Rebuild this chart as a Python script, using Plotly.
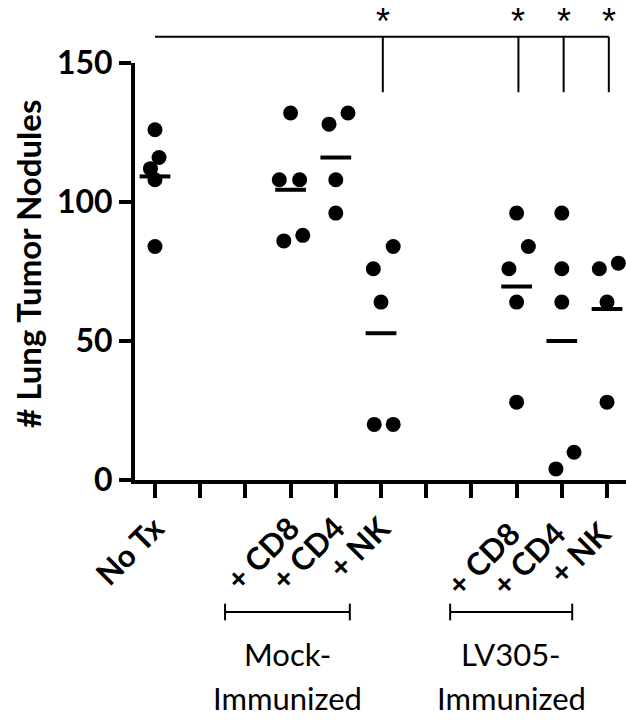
import plotly.graph_objects as go

# ---- data ----
positions = ["No Tx", "", " ", "+ CD8", "+ CD4", "+ NK", "  ", "   ", "+ CD8 ", "+ CD4 ", "+ NK "]
group_index = [0, 3, 4, 5, 8, 9, 10]
no_tx = [126, 116, 112, 108, 84]
mock_cd8 = [132, 108, 108, 86, 88]
mock_cd4 = [128, 132, 108, 96]
mock_nk = [76, 84, 64, 20, 20]
lv_cd8 = [96, 84, 76, 64, 28]
lv_cd4 = [96, 76, 64, 10, 4]
lv_nk = [76, 78, 64, 28]
groups = [no_tx, mock_cd8, mock_cd4, mock_nk, lv_cd8, lv_cd4, lv_nk]
# horizontal jitter (category units) for each dot
jitter = [
    [0.0, 0.09, -0.1, 0.0, 0.0],
    [0.0, -0.25, 0.2, -0.15, 0.27],
    [-0.15, 0.27, 0.0, 0.0],
    [-0.17, 0.27, 0.0, -0.15, 0.27],
    [0.0, 0.26, -0.17, 0.0, 0.0],
    [0.0, 0.0, 0.0, 0.27, -0.13],
    [-0.17, 0.25, 0.0, 0.0],
]
y_ticks = [0, 50, 100, 150]
sig_targets = [5, 8, 9, 10]
group_labels = [("Mock-", "Immunized"), ("LV305-", "Immunized")]

fig = go.Figure()

for gi, vals, jit in zip(group_index, groups, jitter):
    fig.add_trace(go.Scatter(
        x=[gi + j for j in jit], y=vals, mode="markers",
        marker=dict(size=15, color="black"), cliponaxis=False, showlegend=False,
        hoverinfo="y"))
    mean = sum(vals) / len(vals)
    fig.add_trace(go.Scatter(
        x=[gi - 0.34, gi + 0.34], y=[mean, mean], mode="lines",
        line=dict(color="black", width=4), showlegend=False, hoverinfo="skip"))

shapes = []
# significance bracket
top_y = 1.063
drop_y = 0.93
shapes.append(dict(type="line", xref="x", yref="paper", x0=0, x1=max(sig_targets) + 0.04,
                   y0=top_y, y1=top_y, line=dict(color="black", width=2)))
annotations = []
for t in sig_targets:
    shapes.append(dict(type="line", xref="x", yref="paper", x0=t + 0.04, x1=t + 0.04,
                       y0=top_y, y1=drop_y, line=dict(color="black", width=2)))
    annotations.append(dict(x=t + 0.04, y=1.1, xref="x", yref="paper", text="*",
                            showarrow=False, yanchor="middle",
                            font=dict(family="Liberation Sans", size=36, color="black")))

# group brackets below axis
group_spans = [(1.55, 4.31), (6.53, 9.23)]
for (x0, x1), (l1, l2) in zip(group_spans, group_labels):
    yb = -0.3165
    shapes.append(dict(type="line", xref="x", yref="paper", x0=x0, x1=x1, y0=yb, y1=yb,
                       line=dict(color="black", width=2)))
    for xx in (x0, x1):
        shapes.append(dict(type="line", xref="x", yref="paper", x0=xx, x1=xx,
                           y0=yb - 0.02, y1=yb + 0.02, line=dict(color="black", width=2)))
    for txt, yy in ((l1, -0.4173), (l2, -0.5228)):
        annotations.append(dict(x=(x0 + x1) / 2, y=yy, xref="x", yref="paper",
                                text=txt, showarrow=False, yanchor="middle",
                                font=dict(family="Lato", size=31, color="black")))

annotations.append(dict(x=-0.218, y=0.518, xref="paper", yref="paper", text="# Lung Tumor Nodules",
                        textangle=-90, showarrow=False, xanchor="center", yanchor="middle",
                        font=dict(family="Lato", size=33, color="black", weight="bold")))

fig.update_layout(
    width=626, height=720,
    margin=dict(l=135, r=0, t=63, b=240),
    plot_bgcolor="white", paper_bgcolor="white",
    shapes=shapes, annotations=annotations,
    xaxis=dict(range=[-0.442, 10.42], tickmode="array", tickvals=list(range(len(positions))),
               ticktext=positions, tickangle=-45, showline=True, linewidth=4, linecolor="black",
               ticks="outside", ticklen=14, tickwidth=4, tickcolor="black", showgrid=False,
               zeroline=False,
               tickfont=dict(family="Lato", size=31, color="black", weight="bold")),
    yaxis=dict(range=[0, 150], tickvals=y_ticks, showline=True, linewidth=4, linecolor="black",
               ticks="outside", ticklen=12, tickwidth=4, tickcolor="black", showgrid=False,
               zeroline=False,
               tickfont=dict(family="Lato", size=32, color="black", weight="bold")),
)

fig.write_html("out.html")
